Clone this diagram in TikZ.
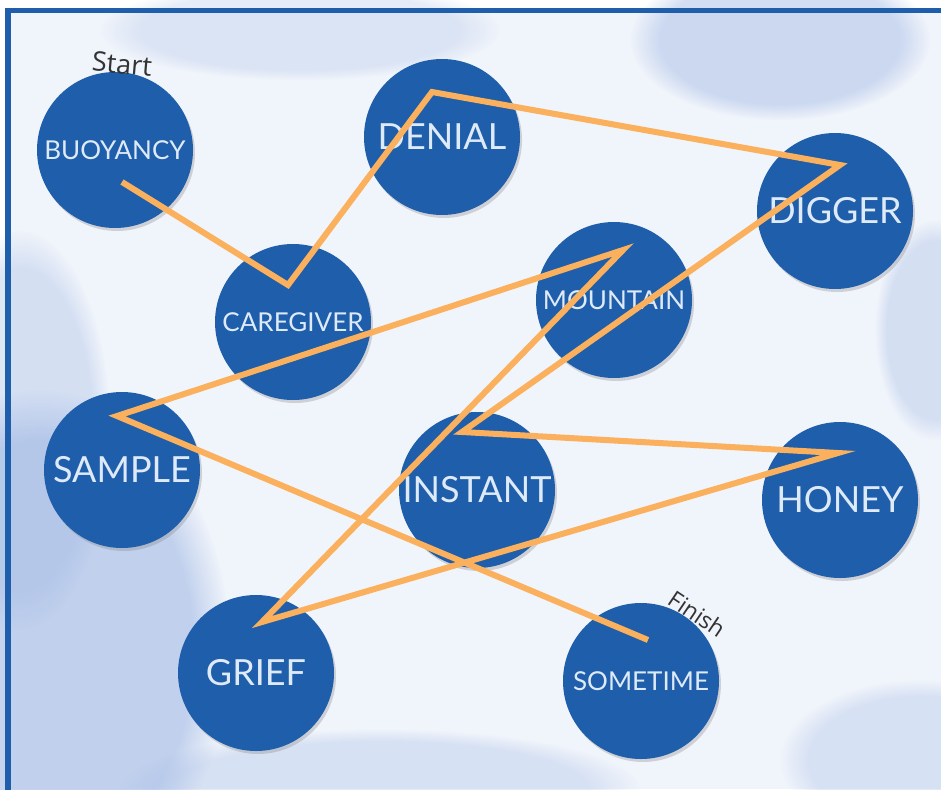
\documentclass[tikz,border=0pt]{standalone}
\usepackage{fontspec}
\setmainfont{Lato}
\newfontfamily\notefont{Open Sans}
\usetikzlibrary{shadows,calc,fadings}

\definecolor{discblue}{RGB}{30,94,170}
\definecolor{wordwhite}{RGB}{222,234,248}
\definecolor{routeorange}{RGB}{250,176,92}
\definecolor{paper}{RGB}{240,244,251}
\definecolor{wash}{RGB}{160,184,228}

\begin{document}
\begin{tikzpicture}[x=1pt,y=-1pt,
  word/.style={circle,fill=discblue,minimum size=156pt,inner sep=0pt,text=wordwhite,
    drop shadow={shadow xshift=2pt,shadow yshift=-3pt,opacity=0.3}},
  big/.style={font=\fontsize{36}{36}\selectfont},
  small/.style={font=\fontsize{26}{26}\selectfont},
  route/.style={draw=routeorange,line width=6pt,line join=miter},
  note/.style={font=\notefont\fontsize{27}{27}\selectfont,text=black!80},
  blot/.style={fill=wash,path fading=circle with fuzzy edge 20 percent}]
  \useasboundingbox (0,0) rectangle (941,789);
  \clip (0,0) rectangle (941,789);
  % background wash
  \fill[white] (0,0) rectangle (941,789);
  \fill[paper] (8,10) rectangle (941,789);
  \fill[blot,opacity=0.6] (40,650) ellipse (190 and 260);
  \fill[blot,opacity=0.35] (20,430) ellipse (90 and 200);
  \fill[blot,opacity=0.45] (780,40) ellipse (150 and 80);
  \fill[blot,opacity=0.35] (935,330) ellipse (60 and 110);
  \fill[blot,opacity=0.3] (920,760) ellipse (140 and 80);
  \fill[blot,opacity=0.3] (380,789) ellipse (260 and 60);
  \fill[blot,opacity=0.25] (300,30) ellipse (200 and 50);
  \draw[discblue,line width=5.5pt] (8,810) |- (960,10.5);

  % the words
  \node[word,small] (buoyancy)  at (115,150) {BUOYANCY};
  \node[word,big]   (denial)    at (442,137) {DENIAL};
  \node[word,big]   (digger)    at (835,211) {DIGGER};
  \node[word,small] (caregiver) at (293,322) {CAREGIVER};
  \node[word,small] (mountain)  at (614,300) {MOUNTAIN};
  \node[word,big]   (sample)    at (122,470) {SAMPLE};
  \node[word,big]   (instant)   at (477,490) {INSTANT};
  \node[word,big]   (honey)     at (840,500) {HONEY};
  \node[word,big]   (grief)     at (256,673) {GRIEF};
  \node[word,small] (sometime)  at (641,681) {SOMETIME};

  \node[note,rotate=-5]  (start)  at (122,64)  {Start};
  \node[note,rotate=-34,font=\notefont\fontsize{23}{23}\selectfont] (finish) at (697,614) {Finish};

  % turning points of the route
  \coordinate (t1)  at ($(buoyancy)+(7,32)$);
  \coordinate (t2)  at ($(caregiver)+(-5,-37)$);
  \coordinate (t3)  at ($(denial)+(-10,-45)$);
  \coordinate (t4)  at ($(digger)+(5,-46)$);
  \coordinate (t5)  at ($(instant)+(-15,-58)$);
  \coordinate (t6)  at ($(honey)+(-2,-47)$);
  \coordinate (t7)  at ($(grief)+(6,-51)$);
  \coordinate (t8)  at ($(mountain)+(9,-50)$);
  \coordinate (t9)  at ($(sample)+(-5,-54)$);
  \coordinate (t10) at ($(sometime)+(7,-41)$);
  \draw[route] (t1) -- (t2) -- (t3) -- (t4) -- (t5) -- (t6) -- (t7) -- (t8) -- (t9) -- (t10);
\end{tikzpicture}
\end{document}
